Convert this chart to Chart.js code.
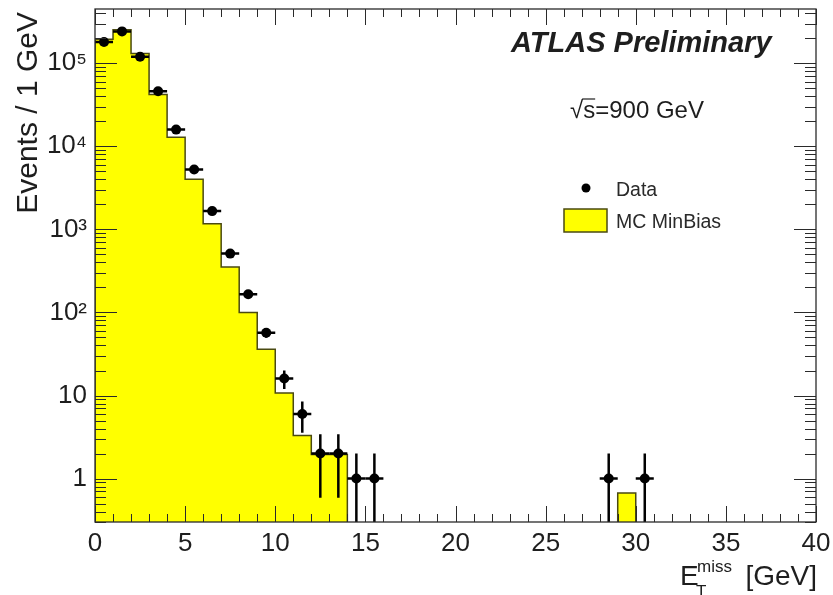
<!DOCTYPE html>
<html><head><meta charset="utf-8">
<script src="https://cdn.jsdelivr.net/npm/chart.js@4.4.0/dist/chart.umd.min.js"></script>
<style>html,body{margin:0;padding:0;background:#fff;}#wrap{width:833px;height:595px;position:relative;}canvas{display:block;}</style>
</head><body><div id="wrap"><canvas id="c" width="833" height="595"></canvas></div>
<script>
// ---- data ----
const binLow = [0,1,2,3,4,5,6,7,8,9,10,11,12,13,14,15,16,17,18,19,20,21,22,23,24,25,26,27,28,29,30];
const dataCounts = [180000,242000,120000,46000,15900,5250,1660,511,166,57,16,6,2,2,1,1,0,0,0,0,0,0,0,0,0,0,0,0,1,0,1];
const mcValues = [194000,254000,131000,42000,12900,4000,1170,352,100,36,10.7,3.3,1.95,1.95,0,0,0,0,0,0,0,0,0,0,0,0,0,0,0,0.67,0];
const xTickValues = [0,5,10,15,20,25,30,35,40];
const yTickValues = [1,10,100,1000,10000,100000];
const yTickLabels = ['1','10','10\u00B2','10\u00B3','10\u2074','10\u2075'];
const xRange = [0,40];
const yRange = [0.3,450000];
const labels = {data:'Data', mc:'MC MinBias', atlas:'ATLAS Preliminary', energy:'s=900 GeV', yTitle:'Events / 1 GeV'};

const FONT = '"Liberation Sans", Arial, Helvetica, sans-serif';
const YELLOW = '#ffff00';
const OUTLINE = '#4a4a12';

// MC histogram contours (one dataset per contiguous run of filled bins)
const mcDatasets = [];
let run = null;
for (let i = 0; i < binLow.length; i++) {
  const v = mcValues[i];
  if (v > 0) {
    if (!run) { run = [{x: binLow[i], y: yRange[0]}]; }
    run.push({x: binLow[i], y: v}, {x: binLow[i] + 1, y: v});
  }
  if ((v <= 0 || i === binLow.length - 1) && run) {
    const last = run[run.length - 1];
    run.push({x: last.x, y: yRange[0]});
    mcDatasets.push(run); run = null;
  }
}
const dataPoints = [];
for (let i = 0; i < binLow.length; i++) {
  if (dataCounts[i] > 0) dataPoints.push({x: binLow[i] + 0.5, y: dataCounts[i], lo: binLow[i], hi: binLow[i] + 1});
}

const datasets = [{
  label: labels.data, type: 'line', data: dataPoints, showLine: false,
  pointRadius: 5, pointBackgroundColor: '#000', pointBorderColor: '#000', pointBorderWidth: 0, order: 1
}];
mcDatasets.forEach((d, k) => datasets.push({
  label: k === 0 ? labels.mc : '', type: 'line', data: d, fill: 'start',
  backgroundColor: YELLOW, borderColor: OUTLINE, borderWidth: 1.5, pointRadius: 0, tension: 0, order: 2
}));

const decor = {
  id: 'decor',
  afterDatasetsDraw(chart) {
    const ctx = chart.ctx, xs = chart.scales.x, ys = chart.scales.y, a = chart.chartArea;
    ctx.save();
    // error bars
    ctx.beginPath(); ctx.rect(a.left, a.top, a.right - a.left, a.bottom - a.top); ctx.clip();
    ctx.strokeStyle = '#000'; ctx.lineWidth = 2.5;
    dataPoints.forEach(p => {
      const e = Math.sqrt(p.y);
      const px = xs.getPixelForValue(p.x), py = ys.getPixelForValue(p.y);
      const yt = ys.getPixelForValue(p.y + e);
      const yb = (p.y - e) > ys.min ? ys.getPixelForValue(p.y - e) : a.bottom;
      ctx.beginPath();
      ctx.moveTo(xs.getPixelForValue(p.lo), py); ctx.lineTo(xs.getPixelForValue(p.hi), py);
      ctx.moveTo(px, yt); ctx.lineTo(px, yb);
      ctx.stroke();
    });
    ctx.restore();
    ctx.save();
    // frame
    ctx.strokeStyle = '#2a2a2a'; ctx.lineWidth = 1.3;
    ctx.strokeRect(a.left, a.top, a.right - a.left, a.bottom - a.top);
    // x ticks (inside, bottom and top)
    ctx.beginPath();
    for (let v = xRange[0]; v <= xRange[1]; v++) {
      const px = Math.round(xs.getPixelForValue(v)) + 0.5;
      const len = (v % 5 === 0) ? 16 : 8;
      ctx.moveTo(px, a.bottom); ctx.lineTo(px, a.bottom - len);
      ctx.moveTo(px, a.top); ctx.lineTo(px, a.top + len);
    }
    // y ticks (inside, left and right)
    for (let d = -1; d <= 6; d++) {
      for (let m = 1; m <= 9; m++) {
        const v = m * Math.pow(10, d);
        if (v < ys.min || v > ys.max) continue;
        const py = Math.round(ys.getPixelForValue(v)) + 0.5;
        const len = m === 1 ? 22 : 11;
        ctx.moveTo(a.left, py); ctx.lineTo(a.left + len, py);
        ctx.moveTo(a.right, py); ctx.lineTo(a.right - len, py);
      }
    }
    ctx.lineWidth = 1; ctx.stroke();
    ctx.restore();
  },
  afterDraw(chart) {
    const ctx = chart.ctx;
    ctx.save();
    ctx.fillStyle = '#1e1e1e'; ctx.textBaseline = 'alphabetic';
    // y title
    ctx.save();
    ctx.translate(37, 12); ctx.rotate(-Math.PI / 2);
    ctx.textAlign = 'right'; ctx.font = '30px ' + FONT;
    ctx.fillText(labels.yTitle, 0, 0);
    ctx.restore();
    // x title: E_T^miss [GeV]
    ctx.textAlign = 'left';
    ctx.font = '28px ' + FONT; ctx.fillText('E', 680, 585);
    ctx.font = '17px ' + FONT; ctx.fillText('miss', 697, 572); ctx.fillText('T', 696, 597);
    ctx.textAlign = 'right'; ctx.font = '28px ' + FONT; ctx.fillText('[GeV]', 817, 585);
    // ATLAS Preliminary
    ctx.textAlign = 'left';
    ctx.font = 'italic bold 29px ' + FONT; ctx.fillText(labels.atlas, 511, 52);
    // sqrt(s)=900 GeV
    ctx.font = '24px ' + FONT;
    const rx = 570, by = 118;
    ctx.fillText('\u221A', rx, by);
    const rw = ctx.measureText('\u221A').width;
    ctx.fillText(labels.energy, rx + rw, by);
    const sw = ctx.measureText('s').width;
    ctx.strokeStyle = '#1e1e1e'; ctx.lineWidth = 1.2;
    ctx.beginPath(); ctx.moveTo(rx + rw - 1, by - 19); ctx.lineTo(rx + rw + sw, by - 19); ctx.stroke();
    // legend
    ctx.fillStyle = '#000';
    ctx.beginPath(); ctx.arc(586, 188, 4.5, 0, Math.PI * 2); ctx.fill();
    ctx.fillStyle = YELLOW; ctx.fillRect(564, 209, 43, 23);
    ctx.strokeStyle = OUTLINE; ctx.lineWidth = 1.5; ctx.strokeRect(564, 209, 43, 23);
    ctx.fillStyle = '#2a2a2a'; ctx.font = '19.5px ' + FONT;
    ctx.fillText(labels.data, 616, 196);
    ctx.fillText(labels.mc, 616, 228);
    ctx.restore();
  }
};

function noPad(s) { s.paddingTop = 0; s.paddingBottom = 0; s.paddingLeft = 0; s.paddingRight = 0; }

new Chart(document.getElementById('c'), {
  type: 'line',
  data: {datasets},
  options: {
    responsive: false, animation: false, devicePixelRatio: 1,
    layout: {padding: {top: 9, right: 17, left: 0, bottom: 0}},
    plugins: {legend: {display: false}, tooltip: {enabled: false}},
    scales: {
      x: {
        type: 'linear', min: xRange[0], max: xRange[1], bounds: 'data',
        grid: {display: false}, border: {display: false},
        afterBuildTicks: s => { s.ticks = xTickValues.map(v => ({value: v})); s.min = xRange[0]; s.max = xRange[1]; },
        afterFit: s => { s.height = 73; noPad(s); },
        ticks: {font: {family: FONT, size: 26}, color: '#1e1e1e', padding: -2, maxRotation: 0, autoSkip: false}
      },
      y: {
        type: 'logarithmic', min: yRange[0], max: yRange[1], bounds: 'data',
        grid: {display: false}, border: {display: false},
        afterBuildTicks: s => { s.ticks = yTickValues.map(v => ({value: v})); s.min = yRange[0]; s.max = yRange[1]; },
        afterFit: s => { s.width = 95; noPad(s); },
        ticks: {font: {family: FONT, size: 26}, color: '#1e1e1e', padding: 0, autoSkip: false,
          callback: (v) => { const k = yTickValues.indexOf(v); return k >= 0 ? yTickLabels[k] : ''; }}
      }
    }
  },
  plugins: [decor]
});
</script>
</body></html>
